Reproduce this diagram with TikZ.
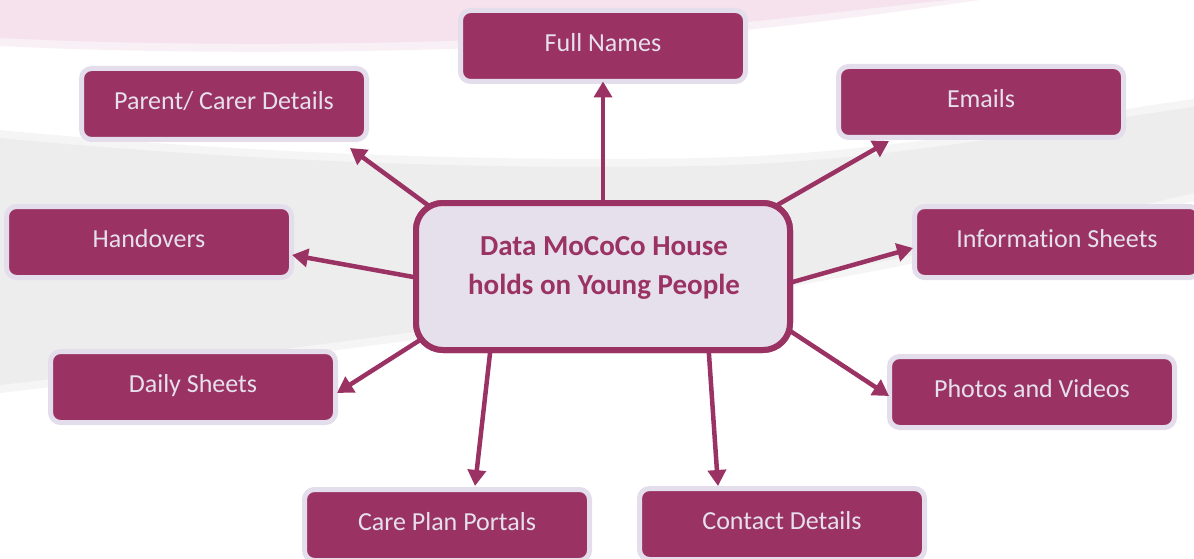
\documentclass[tikz,border=0pt]{standalone}
\usepackage{fontspec}
\setmainfont[Ligatures={NoCommon}]{Carlito}
\usetikzlibrary{arrows.meta,calc}
\definecolor{plum}{RGB}{154,51,99}
\definecolor{lav}{RGB}{230,224,236}
\definecolor{lavedge}{RGB}{228,221,235}
\definecolor{bgpink}{RGB}{245,226,236}
\definecolor{bggray}{RGB}{237,237,237}

\begin{document}
\begin{tikzpicture}[x=1pt,y=-1pt,
  itembox/.style={draw=lavedge, line width=5pt, fill=plum, rounded corners=10pt,
    minimum width=285pt, minimum height=71pt, inner sep=0pt, outer sep=0pt,
    text=lav, font=\fontsize{26}{31}\selectfont, text height=17pt, text depth=6pt},
  hub/.style={draw=plum, line width=6pt, fill=lav, rounded corners=27pt,
    minimum width=374pt, minimum height=147pt, outer sep=0pt},
  hubtext/.style={text=plum, font=\bfseries\fontsize{29}{39}\selectfont,
    align=center, inner sep=0pt},
  link/.style={draw=plum, line width=4.5pt, -{Triangle[length=16pt,width=18pt]}}]

\useasboundingbox (0,0) rectangle (1194,559);
\fill[white] (0,0) rectangle (1194,559);

% soft background bands: a faint halo first, then the band itself
\fill[bgpink, opacity=0.5] (0,0) -- (0,46) .. controls (200,56) and (450,52) .. (600,42)
  .. controls (760,32) and (880,14) .. (980,0) -- cycle;
\fill[bgpink] (0,0) -- (0,38) .. controls (200,48) and (450,44) .. (600,34)
  .. controls (760,24) and (880,6) .. (950,0) -- cycle;
\fill[bggray, opacity=0.5] (0,130) .. controls (250,154) and (500,162) .. (700,158)
  .. controls (900,154) and (1080,114) .. (1194,99) -- (1194,201)
  .. controls (1000,246) and (800,291) .. (600,316)
  .. controls (400,341) and (150,376) .. (0,393) -- cycle;
\fill[bggray] (0,138) .. controls (250,162) and (500,170) .. (700,166)
  .. controls (900,162) and (1080,122) .. (1194,107) -- (1194,193)
  .. controls (1000,238) and (800,283) .. (600,308)
  .. controls (400,333) and (150,368) .. (0,385) -- cycle;

% outer boxes
\node[itembox] (full)  at (603,46)   {Full Names};
\node[itembox] (par)   at (224,104)  {Parent/ Carer Details};
\node[itembox] (em)    at (981,102)  {Emails};
\node[itembox] (hand)  at (149,242)  {Handovers};
\node[itembox] (info)  at (1057,242) {Information Sheets};
\node[itembox] (daily) at (193,387)  {Daily Sheets};
\node[itembox] (photo) at (1032,392) {Photos and Videos};
\node[itembox] (care)  at (447,525)  {Care Plan Portals};
\node[itembox] (cont)  at (782,524)  {Contact Details};

% hub placed first so the connectors can start under it
\path node[hub] (c) at (603,276.5) {};

\draw[link] ($(c.center)+(0,-61.5)$)     -- (full.south);
\draw[link] ($(c.center)+(-163,-62.5)$)  -- ($(par.center)+(126,44)$);
\draw[link] ($(c.center)+(163,-65)$)     -- ($(em.center)+(-92,39)$);
\draw[link] ($(c.center)+(-173,3.5)$)    -- ($(hand.center)+(143,13)$);
\draw[link] ($(c.center)+(-168,54)$)     -- ($(daily.center)+(144,6)$);
\draw[link] ($(c.center)+(172,10.5)$)    -- ($(info.center)+(-144,6)$);
\draw[link] ($(c.center)+(169,42.5)$)    -- ($(photo.center)+(-143,4)$);
\draw[link] ($(c.center)+(-111.5,63.5)$) -- ($(care.center)+(28,-39)$);
\draw[link] ($(c.center)+(105,63.5)$)    -- ($(cont.center)+(-64,-38)$);

% hub drawn over the connector starts
\node[hub] at (c.center) {};
\node[hubtext] (ctext) at ($(c.center)+(1,-9)$) {Data MoCoCo House\\holds on Young People};
\end{tikzpicture}
\end{document}
